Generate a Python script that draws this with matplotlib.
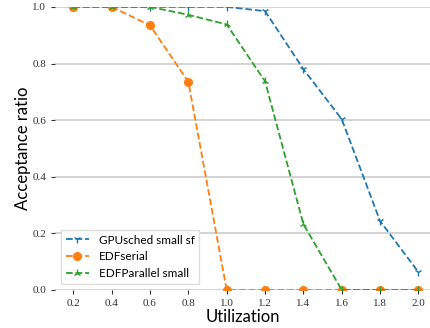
import matplotlib
matplotlib.use('Agg')
import matplotlib.pyplot as plt

util = [0.2, 0.4, 0.6, 0.8, 1.0, 1.2, 1.4, 1.6, 1.8, 2.0]
gpusched = [1.0, 1.0, 1.0, 1.0, 1.0, 0.985, 0.78, 0.603, 0.243, 0.063]
edf_serial = [1.0, 1.0, 0.935, 0.735, 0.0, 0.0, 0.0, 0.0, 0.0, 0.0]
edf_parallel = [1.0, 1.0, 1.0, 0.972, 0.938, 0.737, 0.232, 0.0, 0.0, 0.0]
xticks = [0.2, 0.4, 0.6, 0.8, 1.0, 1.2, 1.4, 1.6, 1.8, 2.0]
yticks = [0.0, 0.2, 0.4, 0.6, 0.8, 1.0]

fig = plt.figure(figsize=(4.3, 3.28), dpi=100)
ax = fig.add_axes([0.128, 0.116, 0.872, 0.863])

ax.plot(util, gpusched, '--', marker='1', color='#1f77b4', lw=1.3, markersize=6, label='GPUsched small sf')
ax.plot(util, edf_serial, '--', marker='o', color='#ff7f0e', lw=1.3, markersize=5.5, label='EDFserial')
ax.plot(util, edf_parallel, '--', marker='2', color='#2ca02c', lw=1.3, markersize=6, label='EDFParallel small')

ax.set_xlim(0.105, 2.06)
ax.set_ylim(0.0, 1.0)
ax.set_xticks(xticks)
ax.set_yticks(yticks)
ax.set_xticklabels([f'{v:.1f}' for v in xticks], family='Liberation Serif', fontsize=8)
ax.set_yticklabels([f'{v:.1f}' for v in yticks], family='Liberation Serif', fontsize=8)
ax.yaxis.grid(True, color='#cccccc', linewidth=1.2)
ax.set_axisbelow(True)
for s in ax.spines.values():
    s.set_visible(False)
ax.tick_params(length=3, color='#333333', labelcolor='#333333')
ax.set_xlabel('Utilization', family='Lato', fontsize=12, labelpad=1)
ax.set_ylabel('Acceptance ratio', family='Lato', fontsize=12, labelpad=1)
ax.legend(loc='lower left', prop={'family': 'Lato', 'size': 8.5}, framealpha=1, edgecolor='#dddddd',
          fancybox=False, bbox_to_anchor=(0.0, 0.0))

fig.savefig('out.png', dpi=100)
